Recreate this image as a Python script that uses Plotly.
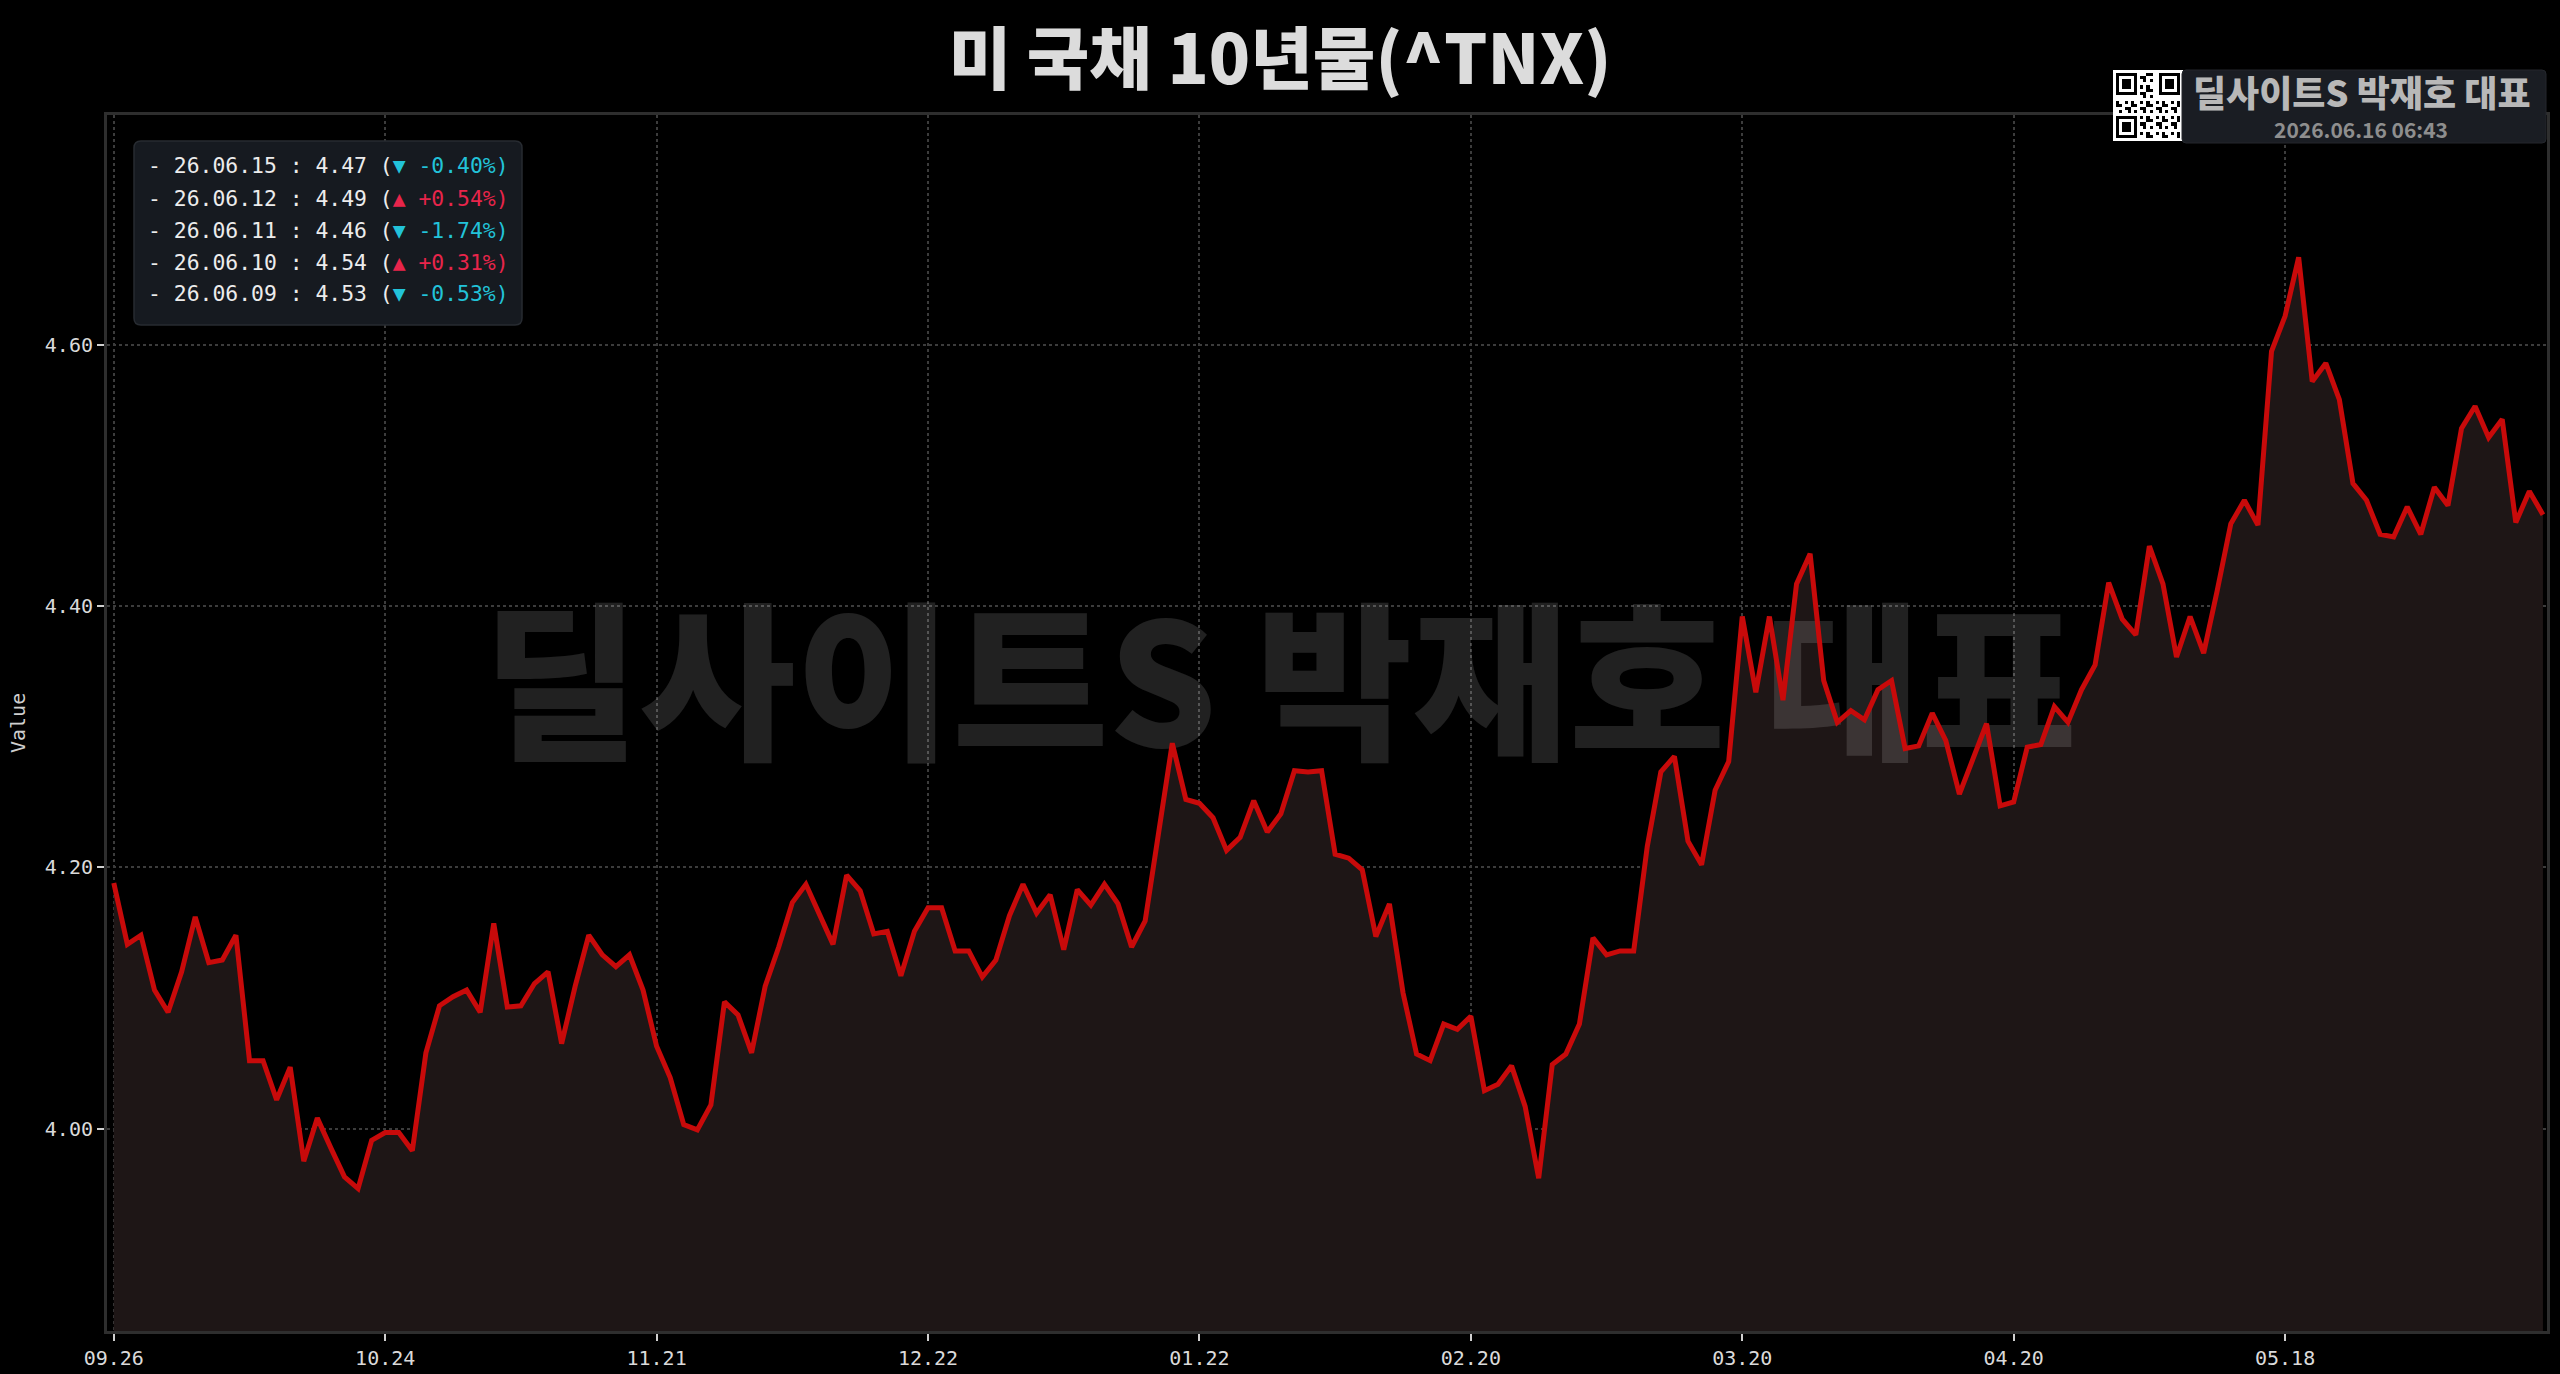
import base64
import pandas as pd
import plotly.graph_objects as go

# ---------------- data ----------------
start_date = "2025-09-26"
end_date = "2026-06-15"
market_holidays = ["2025-11-27", "2025-12-25", "2026-01-01", "2026-01-19",
                   "2026-02-16", "2026-04-03", "2026-05-25"]

values = [
    4.188, 4.141, 4.148, 4.106, 4.089, 4.120, 4.162, 4.127, 4.129, 4.148,
    4.052, 4.052, 4.022, 4.047, 3.975, 4.008, 3.985, 3.963, 3.954, 3.991,
    3.997, 3.997, 3.983, 4.058, 4.094, 4.101, 4.106, 4.089, 4.157, 4.093,
    4.094, 4.111, 4.120, 4.065, 4.109, 4.148, 4.133, 4.124, 4.133, 4.106,
    4.063, 4.039, 4.003, 3.999, 4.018, 4.097, 4.087, 4.058, 4.109, 4.139,
    4.173, 4.187, 4.164, 4.141, 4.194, 4.182, 4.149, 4.151, 4.117, 4.151,
    4.169, 4.169, 4.136, 4.136, 4.116, 4.129, 4.163, 4.187, 4.165, 4.179,
    4.137, 4.183, 4.171, 4.187, 4.172, 4.139, 4.159, 4.225, 4.295, 4.252,
    4.249, 4.238, 4.213, 4.223, 4.251, 4.227, 4.241, 4.274, 4.273, 4.274,
    4.210, 4.207, 4.198, 4.147, 4.172, 4.104, 4.057, 4.052, 4.080, 4.076,
    4.086, 4.029, 4.034, 4.048, 4.017, 3.962, 4.049, 4.057, 4.080, 4.146,
    4.133, 4.136, 4.136, 4.216, 4.273, 4.285, 4.220, 4.202, 4.259, 4.281,
    4.392, 4.334, 4.392, 4.328, 4.417, 4.440, 4.343, 4.311, 4.320, 4.313,
    4.336, 4.343, 4.291, 4.293, 4.318, 4.297, 4.256, 4.283, 4.310, 4.247,
    4.250, 4.292, 4.294, 4.323, 4.311, 4.336, 4.355, 4.418, 4.390, 4.378,
    4.446, 4.417, 4.361, 4.392, 4.364, 4.412, 4.463, 4.481, 4.462, 4.595,
    4.622, 4.667, 4.572, 4.586, 4.558, 4.494, 4.481, 4.455, 4.453, 4.476,
    4.455, 4.491, 4.477, 4.536, 4.553, 4.529, 4.543, 4.464, 4.488, 4.470,
]

title_text = "미 국채 10년물(^TNX)"
brand_text = "딜사이트S 박재호 대표"
stamp_text = "2026.06.16 06:43"
y_label = "Value"
tick_step = 20
y_tickvals = [4.00, 4.20, 4.40, 4.60]
n_recent = 5

# ---------------- derived ----------------
dates = [d for d in pd.bdate_range(start_date, end_date)
         if d.strftime("%Y-%m-%d") not in market_holidays]
n = min(len(dates), len(values))
dates = dates[-n:]
vals = values[-n:]
xs = list(range(n))
tickvals = xs[::tick_step]
ticktext = [dates[i].strftime("%m.%d") for i in tickvals]

# ---------------- geometry ----------------
W, H = 2560, 1374
L, R, T, B = 107, 2547, 115, 1331
x_range = [-0.5, n - 1 + 0.3]
y_range = [3.845, 4.776]


def px(x):
    return (x - L) / (R - L)


def py(y):
    return (B - y) / (B - T)


def rounded_path(x0, y0, x1, y1, r):
    rx = r / (R - L)
    ry = r / (B - T)
    a, b, c, d = px(x0), py(y0), px(x1), py(y1)
    return (f"M {a+rx},{b} L {c-rx},{b} Q {c},{b} {c},{b-ry} "
            f"L {c},{d+ry} Q {c},{d} {c-rx},{d} L {a+rx},{d} "
            f"Q {a},{d} {a},{d+ry} L {a},{b-ry} Q {a},{b} {a+rx},{b} Z")


fig = go.Figure()

# area fill
fig.add_trace(go.Scatter(
    x=xs, y=vals, mode="lines", fill="tozeroy",
    fillcolor="#1e1616", line=dict(width=0, color="#1e1616"),
    hoverinfo="skip", showlegend=False))

# watermark (between fill and line)
wx = x_range[0] + px(1280) * (x_range[1] - x_range[0])
wy = y_range[0] + py(704) * (y_range[1] - y_range[0])
fig.add_trace(go.Scatter(
    x=[wx], y=[wy], mode="text", text=[brand_text],
    textposition="middle center",
    textfont=dict(family="Noto Sans CJK KR", size=170, weight=900,
                  color="rgba(255,255,255,0.13)"),
    hoverinfo="skip", showlegend=False, cliponaxis=False))

# line
fig.add_trace(go.Scatter(
    x=xs, y=vals, mode="lines",
    line=dict(color="#c80a0a", width=5),
    showlegend=False))

axis_common = dict(
    showline=True, linecolor="#2e2e2e", linewidth=3, mirror=True,
    showgrid=True, gridcolor="#3c3c3c", gridwidth=1.5, griddash="dot",
    zeroline=False, ticks="outside", ticklen=7, tickwidth=2,
    tickcolor="#d0d0d0", automargin=False,
    tickfont=dict(family="DejaVu Sans Mono", size=20, color="#dadada"),
)

fig.update_layout(
    width=W, height=H, autosize=False,
    margin=dict(l=L, r=W - R, t=T, b=H - B, autoexpand=False),
    paper_bgcolor="#000000", plot_bgcolor="#000000",
    title=dict(text=title_text, x=0.5, xanchor="center", xref="container",
               y=1 - 60 / H, yanchor="middle", yref="container",
               font=dict(family="Noto Sans CJK KR", size=68, weight=900,
                         color="#dcdcdc")),
    xaxis=dict(range=x_range, tickvals=tickvals, ticktext=ticktext,
               **axis_common),
    yaxis=dict(range=y_range, tickvals=y_tickvals, tickformat=".2f",
               **axis_common),
    showlegend=False,
)

shapes = []
annotations = []

# y-axis label
annotations.append(dict(
    text=y_label, xref="paper", yref="paper", x=px(18), y=0.5,
    textangle=-90, showarrow=False, xanchor="center", yanchor="middle",
    font=dict(family="DejaVu Sans Mono", size=20, color="#cfcfcf")))

# recent values box
shapes.append(dict(type="path", xref="paper", yref="paper",
                   path=rounded_path(134, 141, 522, 325, 7),
                   fillcolor="#161a20", line=dict(color="#272b31", width=1.5)))
up_color, down_color = "#e8254b", "#22c3d9"
line_ys = [166, 198, 230, 262, 294]
for k in range(n_recent):
    i = n - 1 - k
    cur, prev = vals[i], vals[i - 1]
    pct = (cur / prev - 1) * 100
    if pct >= 0:
        seg = f"<span style='color:{up_color}'>▲ +{pct:.2f}%)</span>"
    else:
        seg = f"<span style='color:{down_color}'>▼ {pct:.2f}%)</span>"
    txt = f"- {dates[i].strftime('%y.%m.%d')} : {cur:.2f} (" + seg
    annotations.append(dict(
        text=txt, xref="paper", yref="paper", x=px(146), y=py(line_ys[k]),
        xanchor="left", yanchor="middle", showarrow=False, align="left",
        font=dict(family="DejaVu Sans Mono", size=21.4, color="#ececec")))

# brand badge
shapes.append(dict(type="path", xref="paper", yref="paper",
                   path=rounded_path(2182, 70, 2546, 143, 4),
                   fillcolor="#1a1d23", line=dict(color="#24272d", width=1)))
annotations.append(dict(
    text=brand_text, xref="paper", yref="paper", x=px(2362), y=py(91),
    xanchor="center", yanchor="middle", showarrow=False,
    font=dict(family="Noto Sans CJK KR", size=36, weight=900,
              color="#b8b8b8")))
annotations.append(dict(
    text=stamp_text, xref="paper", yref="paper", x=px(2361), y=py(129),
    xanchor="center", yanchor="middle", showarrow=False,
    font=dict(family="Noto Sans CJK KR", size=21, weight="bold",
              color="#8e8e8e")))

# QR-like badge icon (decorative)
N = 21
cells = []


def finder(ox, oy):
    out = []
    for r in range(7):
        for c in range(7):
            if r in (0, 6) or c in (0, 6) or (2 <= r <= 4 and 2 <= c <= 4):
                out.append((ox + c, oy + r))
    return out


cells += finder(0, 0) + finder(N - 7, 0) + finder(0, N - 7)
reserved = set()
for (ox, oy) in [(0, 0), (N - 8, 0), (0, N - 8)]:
    for r in range(8):
        for c in range(8):
            reserved.add((ox + c, oy + r))
for r in range(N):
    for c in range(N):
        if (c, r) in reserved:
            continue
        if ((c * 7 + r * 13 + c * r) % 5) in (0, 2):
            cells.append((c, r))
rects = "".join(f"<rect x='{c+1}' y='{r+1}' width='1' height='1'/>" for c, r in cells)
svg = (f"<svg xmlns='http://www.w3.org/2000/svg' viewBox='0 0 {N+2} {N+2}' "
       f"shape-rendering='crispEdges'><rect width='{N+2}' height='{N+2}' fill='white'/>"
       f"<g fill='black'>{rects}</g></svg>")
src = "data:image/svg+xml;base64," + base64.b64encode(svg.encode()).decode()
fig.add_layout_image(dict(
    source=src, xref="paper", yref="paper", x=px(2113), y=py(70),
    sizex=70 / (R - L), sizey=71 / (B - T), xanchor="left", yanchor="top",
    sizing="stretch", layer="above"))

fig.update_layout(shapes=shapes, annotations=annotations)
fig.write_html("out.html",
               config={"displayModeBar": False},
               post_script="document.body.style.margin='0';"
                           "document.body.style.background='#000';")
